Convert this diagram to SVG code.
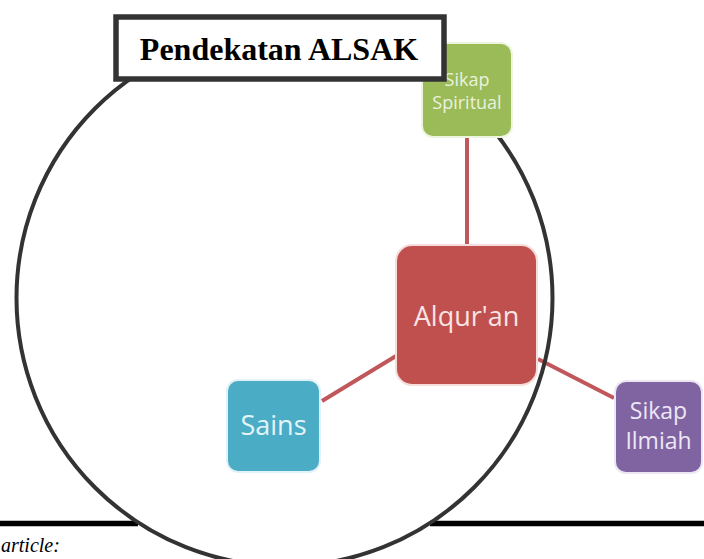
<svg xmlns="http://www.w3.org/2000/svg" width="704" height="559" viewBox="0 0 704 559">
<style>
.rule{stroke:#000;stroke-width:5.5;fill:none}
.conn{stroke:#c0575a;stroke-width:4;fill:none}
.ring{stroke:#333;stroke-width:4;fill:none}
.node{stroke-width:2}
.lbl{font-family:"Open Sans","Noto Sans",sans-serif;text-anchor:middle;dominant-baseline:central}
</style>
<rect width="704" height="559" fill="#fff"/>
<line class="rule" x1="0" y1="523.5" x2="138" y2="523.5"/>
<line class="rule" x1="430" y1="523.5" x2="704" y2="523.5"/>
<text x="1" y="552" font-family="Liberation Serif, serif" font-style="italic" font-size="20" fill="#000">article:</text>
<g id="connectors">
<line class="conn" x1="467" y1="137" x2="467" y2="245"/>
<line class="conn" x1="322" y1="401" x2="396" y2="356"/>
<line class="conn" x1="538" y1="359" x2="614" y2="398"/>
</g>
<circle class="ring" cx="284.5" cy="298" r="268"/>
<g id="node-spiritual">
<rect class="node" x="422" y="43" width="90" height="94" rx="11" fill="#9bbb59" stroke="#eef5df"/>
<text class="lbl" x="467" y="79" font-size="18" fill="#eaf2dc">Sikap</text>
<text class="lbl" x="467" y="102" font-size="18" fill="#eaf2dc">Spiritual</text>
</g>
<g id="node-alquran">
<rect class="node" x="396" y="245" width="141" height="140" rx="16" fill="#c0504d" stroke="#f6dcdb"/>
<text class="lbl" x="466.5" y="315" font-size="27" fill="#f8e4e4">Alqur'an</text>
</g>
<g id="node-sains">
<rect class="node" x="227" y="380" width="93" height="92" rx="11" fill="#4bacc6" stroke="#e1f3f8"/>
<text class="lbl" x="273.5" y="424" font-size="27" fill="#e4f5fa">Sains</text>
</g>
<g id="node-ilmiah">
<rect class="node" x="615" y="381" width="87" height="92" rx="11" fill="#8064a2" stroke="#ece6f3"/>
<text class="lbl" x="658.5" y="410" font-size="23" fill="#ede7f5">Sikap</text>
<text class="lbl" x="658.5" y="440" font-size="23" fill="#ede7f5">Ilmiah</text>
</g>
<g id="title">
<rect x="116" y="17" width="328" height="62" fill="#fff" stroke="#333" stroke-width="5.5"/>
<text x="279" y="60" font-family="Liberation Serif, serif" font-weight="bold" font-size="32" text-anchor="middle" fill="#000">Pendekatan ALSAK</text>
</g>
</svg>
